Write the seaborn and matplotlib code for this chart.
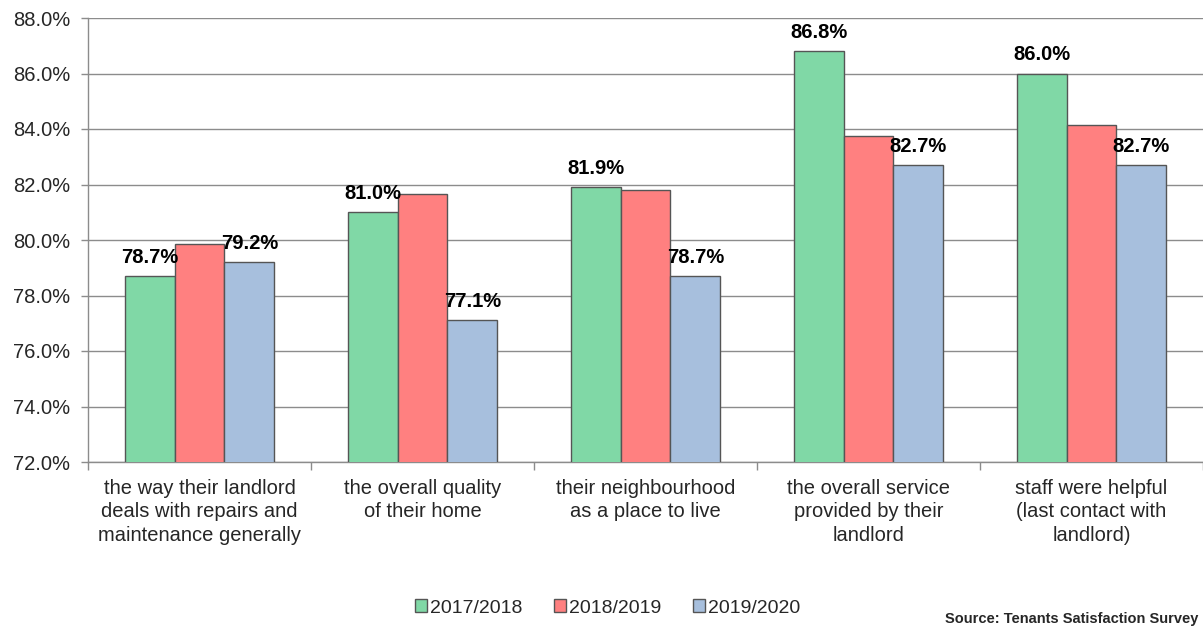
import numpy as np
import pandas as pd
import matplotlib
matplotlib.use('Agg')
import matplotlib.pyplot as plt
from matplotlib.patches import Patch
from matplotlib.ticker import FuncFormatter, FixedLocator
import seaborn as sns

# ── 데이터 ─────────────────────────────────────
categories = [
    'the way their landlord\ndeals with repairs and\nmaintenance generally',
    'the overall quality\nof their home',
    'their neighbourhood\nas a place to live',
    'the overall service\nprovided by their\nlandlord',
    'staff were helpful\n(last contact with\nlandlord)',
]
years = ['2017/2018', '2018/2019', '2019/2020']
v2017 = [78.7, 81.0, 81.9, 86.8, 86.0]
v2018 = [79.85, 81.65, 81.8, 83.75, 84.15]
v2019 = [79.2, 77.1, 78.7, 82.7, 82.7]
labelled = ['2017/2018', '2019/2020']   # 라벨 붙는 연도
source_text = 'Source: Tenants Satisfaction Survey'

colors = ['#80D8A6', '#FF8080', '#A7BFDD']

df = pd.DataFrame({
    'category': categories * 3,
    'year': np.repeat(years, len(categories)),
    'value': v2017 + v2018 + v2019,
})

sns.set_theme(style='white')
plt.rcParams['font.family'] = ['Liberation Sans', 'DejaVu Sans']

fig = plt.figure(figsize=(12.03, 6.27), dpi=100)
ax = fig.add_axes([88 / 1203, 1 - 462 / 627, 1 - 88 / 1203, (462 - 18) / 627])

sns.barplot(data=df, x='category', y='value', hue='year', order=categories,
            hue_order=years, palette=colors, saturation=1, width=0.67,
            edgecolor='#555555', linewidth=1, legend=False, ax=ax, zorder=3)

# 값 라벨 (초록, 파랑만)
for cont, yr in zip(ax.containers, years):
    if yr not in labelled:
        continue
    for bar in cont:
        h = bar.get_height()
        ax.annotate(f'{h:.1f}%', (bar.get_x() + bar.get_width() / 2, h),
                    xytext=(0, 13.5), textcoords='offset points',
                    ha='center', va='center', fontsize=14.5,
                    fontweight='bold', color='black', zorder=5)

ax.set_ylim(72, 88)
ax.set_xlim(-0.5, len(categories) - 0.5)
ax.set_yticks(np.arange(72, 88.1, 2))
ax.yaxis.set_major_formatter(FuncFormatter(lambda v, p: f'{v:.1f}%'))
ax.grid(axis='y', color='#8c8c8c', lw=1, zorder=0)
ax.set_axisbelow(True)
ax.set_xlabel('')
ax.set_ylabel('')

for s in ['top', 'right']:
    ax.spines[s].set_visible(False)
for s in ['left', 'bottom']:
    ax.spines[s].set_color('#8c8c8c')
    ax.spines[s].set_linewidth(1)

ax.tick_params(axis='y', which='major', left=True, length=5, width=1,
               color='#8c8c8c', pad=8, labelsize=14.5)
ax.tick_params(axis='x', which='major', bottom=False, length=0, pad=12,
               labelsize=14.5)
ax.xaxis.set_minor_locator(FixedLocator(np.arange(-0.5, len(categories), 1)))
ax.tick_params(axis='x', which='minor', bottom=True, length=6, width=1,
               color='#8c8c8c')
for t in ax.get_xticklabels():
    t.set_linespacing(1.3)

handles = [Patch(facecolor=c, edgecolor='#555555', lw=1) for c in colors]
fig.legend(handles, years, loc='center', bbox_to_anchor=(0.505, 1 - 608 / 627),
           ncol=3, frameon=False, fontsize=14, handlelength=0.65,
           handleheight=0.65, handletextpad=0.15, columnspacing=1.6)

fig.text(1198 / 1203, 1.5 / 627, source_text, ha='right', va='bottom',
         fontsize=10.5, fontweight='bold')

fig.savefig('out.png', dpi=100)
